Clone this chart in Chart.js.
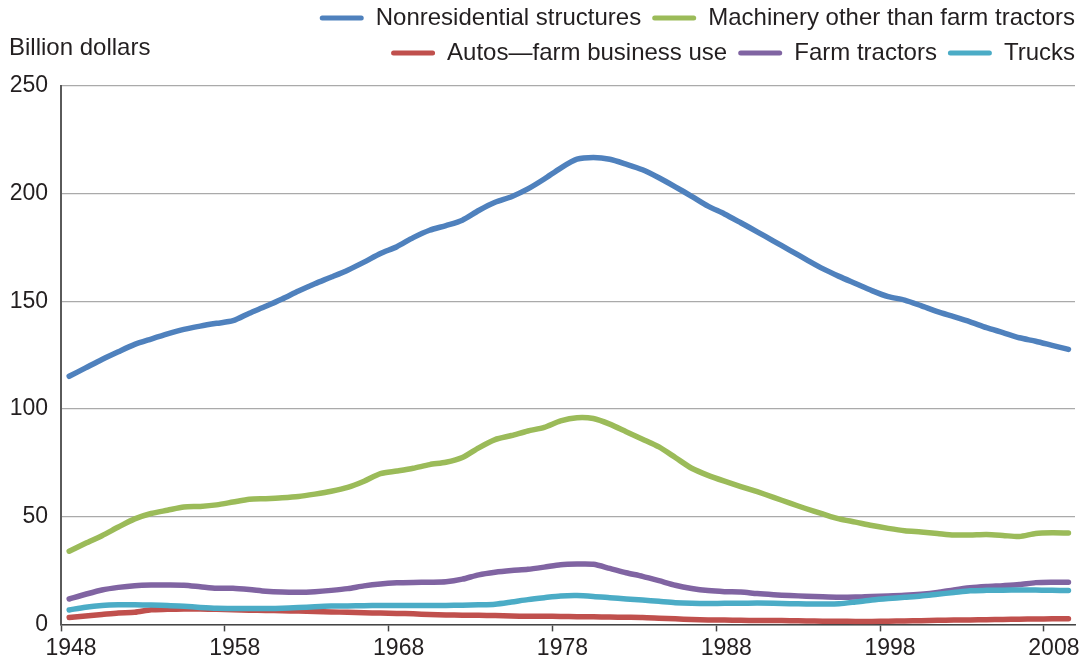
<!DOCTYPE html>
<html>
<head>
<meta charset="utf-8">
<script src="https://cdn.jsdelivr.net/npm/chart.js@4/dist/chart.umd.min.js"></script>
<style>
  html, body { margin: 0; padding: 0; background: #fff; }
  #wrap { width: 1086px; height: 669px; position: relative; }
</style>
</head>
<body>
<div id="wrap"><canvas id="chart"></canvas></div>
<script>
const years = [
  1948, 1949, 1950, 1951, 1952, 1953, 1954, 1955, 1956, 1957,
  1958, 1959, 1960, 1961, 1962, 1963, 1964, 1965, 1966, 1967,
  1968, 1969, 1970, 1971, 1972, 1973, 1974, 1975, 1976, 1977,
  1978, 1979, 1980, 1981, 1982, 1983, 1984, 1985, 1986, 1987,
  1988, 1989, 1990, 1991, 1992, 1993, 1994, 1995, 1996, 1997,
  1998, 1999, 2000, 2001, 2002, 2003, 2004, 2005, 2006, 2007,
  2008, 2009
]

const tickYears = [1948, 1958, 1968, 1978, 1988, 1998, 2008]
const yTicks = [0, 50, 100, 150, 200, 250]

// billion dollars
const nonresidential = [
  115.2, 119.1, 123.0, 126.6, 130.0, 132.5, 134.9, 137.0, 138.5, 139.8,
  141.0, 144.5, 147.7, 151.1, 154.8, 158.2, 161.3, 164.5, 168.2, 172.2,
  175.4, 179.6, 183.0, 185.2, 187.7, 192.2, 196.0, 198.6, 202.2, 206.8,
  211.9, 216.0, 216.8, 216.0, 213.7, 211.1, 207.4, 203.2, 198.8, 194.2,
  190.6, 186.5, 182.3, 178.0, 173.7, 169.4, 165.2, 161.6, 158.3, 155.0,
  152.2, 150.6, 148.0, 145.2, 142.9, 140.5, 137.8, 135.5, 133.1, 131.5,
  129.6, 127.7
]
const machinery = [
  34.0, 37.7, 41.2, 45.2, 49.0, 51.5, 53.0, 54.5, 54.8, 55.5,
  56.8, 58.1, 58.4, 58.8, 59.4, 60.5, 61.8, 63.6, 66.5, 70.0,
  71.2, 72.5, 74.2, 75.3, 77.5, 82.0, 85.8, 87.7, 89.8, 91.5,
  94.5, 96.0, 95.6, 93.0, 89.5, 86.0, 82.4, 77.5, 72.5, 69.2,
  66.5, 64.0, 61.6, 59.0, 56.3, 53.7, 51.3, 49.0, 47.5, 45.9,
  44.6, 43.5, 42.9, 42.2, 41.5, 41.5, 41.7, 41.3, 40.8, 42.2,
  42.5, 42.4
]
const autos = [
  3.2, 3.9, 4.6, 5.3, 5.6, 6.8, 7.0, 7.2, 7.1, 7.0,
  6.8, 6.6, 6.5, 6.3, 6.2, 6.0, 5.8, 5.6, 5.4, 5.3,
  5.1, 4.9, 4.6, 4.4, 4.3, 4.2, 4.1, 3.9, 3.8, 3.8,
  3.7, 3.6, 3.5, 3.4, 3.3, 3.2, 2.9, 2.6, 2.3, 2.1,
  2.0, 1.9, 1.8, 1.8, 1.7, 1.6, 1.5, 1.5, 1.4, 1.4,
  1.5, 1.6, 1.7, 1.9, 2.0, 2.1, 2.2, 2.3, 2.4, 2.5,
  2.6, 2.6
]
const tractors = [
  11.8, 14.0, 16.0, 17.2, 18.0, 18.3, 18.3, 18.2, 17.5, 16.8,
  16.8, 16.2, 15.4, 15.0, 14.9, 15.2, 15.8, 16.6, 17.9, 18.8,
  19.3, 19.5, 19.6, 19.8, 21.0, 23.0, 24.2, 25.0, 25.6, 26.6,
  27.7, 28.0, 27.9, 26.0, 24.0, 22.3, 20.3, 18.2, 16.7, 15.7,
  15.2, 15.0, 14.3, 13.8, 13.4, 13.1, 12.8, 12.6, 12.7, 13.0,
  13.2, 13.5, 14.0, 14.8, 16.0, 17.0, 17.6, 18.0, 18.5, 19.4,
  19.6, 19.6
]
const trucks = [
  6.7, 8.0, 8.8, 9.1, 9.1, 9.0, 8.8, 8.4, 7.9, 7.5,
  7.4, 7.4, 7.4, 7.5, 7.8, 8.2, 8.5, 8.6, 8.7, 8.8,
  8.8, 8.8, 8.8, 8.8, 8.9, 9.1, 9.4, 10.4, 11.5, 12.4,
  13.2, 13.4, 13.0, 12.4, 11.8, 11.3, 10.7, 10.1, 9.8, 9.7,
  9.8, 9.8, 9.9, 9.8, 9.6, 9.5, 9.5, 9.6, 10.4, 11.3,
  12.0, 12.6, 13.2, 14.0, 14.8, 15.6, 15.8, 15.9, 16.0, 16.0,
  15.8, 15.7
]

const seriesNames = [
  'Nonresidential structures',
  'Machinery other than farm tractors',
  'Autos\u2014farm business use',
  'Farm tractors',
  'Trucks'
]
const seriesValues = [nonresidential, machinery, autos, tractors, trucks]
const seriesColors = ['#4F81BD', '#9BBB59', '#C0504D', '#8064A2', '#4BACC6']

const FONT = '"Liberation Sans", Arial, Helvetica, sans-serif'
const TEXT = '#231f20'

const axisTitle = {
  id: 'axisTitle',
  afterDraw(chart) {
    const { ctx, chartArea } = chart
    ctx.save()
    ctx.font = `24px ${FONT}`
    ctx.fillStyle = TEXT
    ctx.textAlign = 'left'
    ctx.textBaseline = 'middle'
    ctx.fillText('Billion dollars', chartArea.left - 52, chartArea.top - 38)
    ctx.restore()
  }
}

// nudge the legend rows up a bit, closer to the top edge
const legendNudge = {
  id: 'legendNudge',
  afterLayout(chart) {
    const lg = chart.legend
    if (!lg) return
    lg.top -= 11
    lg.bottom -= 11
  }
}

const datasets = seriesNames.map((name, i) => ({
  label: name,
  data: years.map((yr, j) => ({ x: yr, y: seriesValues[i][j] })),
  borderColor: seriesColors[i],
  backgroundColor: seriesColors[i],
  borderWidth: 5.5,
  borderCapStyle: 'round',
  borderJoinStyle: 'round',
  pointRadius: 0,
  tension: 0.25,
  order: seriesNames.length - i
}))

new Chart(document.getElementById('chart'), {
  type: 'line',
  data: { datasets },
  plugins: [axisTitle, legendNudge],
  options: {
    responsive: true,
    maintainAspectRatio: false,
    animation: false,
    layout: { padding: { top: 0, left: 0, right: 0, bottom: 4 } },
    plugins: {
      tooltip: { enabled: false },
      legend: {
        display: true,
        position: 'top',
        align: 'end',
        labels: {
          font: { size: 24, family: FONT },
          color: TEXT,
          boxWidth: 44,
          boxHeight: 5,
          padding: 11,
          useBorderRadius: true,
          borderRadius: 2.5,
          sort: (a, b) => a.datasetIndex - b.datasetIndex,
          generateLabels: chart =>
            Chart.defaults.plugins.legend.labels.generateLabels(chart)
              .map(item => ({ ...item, lineWidth: 0 }))
        }
      }
    },
    scales: {
      x: {
        type: 'linear',
        min: 1947.5,
        max: 2009.4,
        afterBuildTicks: scale => {
          scale.ticks = tickYears.map(v => ({ value: v - 0.5 }))
        },
        afterFit: scale => { scale.paddingRight = 11 },
        ticks: {
          callback: v => String(v + 0.5),
          font: { size: 23, family: FONT },
          color: TEXT,
          labelOffset: 10,
          padding: 3,
          maxRotation: 0,
          autoSkip: false
        },
        grid: {
          drawOnChartArea: false,
          drawTicks: true,
          tickLength: 7,
          tickColor: '#444',
          tickWidth: 1.5
        },
        border: { color: '#444', width: 1.5 }
      },
      y: {
        min: 0,
        max: 250,
        afterBuildTicks: scale => {
          scale.ticks = yTicks.map(v => ({ value: v }))
        },
        afterFit: scale => {
          scale.paddingTop = 86
          scale.width = 61
        },
        ticks: {
          font: { size: 23, family: FONT },
          color: TEXT,
          padding: 13
        },
        grid: {
          color: '#aaaaaa',
          lineWidth: 1.2,
          drawTicks: false
        },
        border: { color: '#5a5a5a', width: 2 }
      }
    }
  }
})
</script>
</body>
</html>
